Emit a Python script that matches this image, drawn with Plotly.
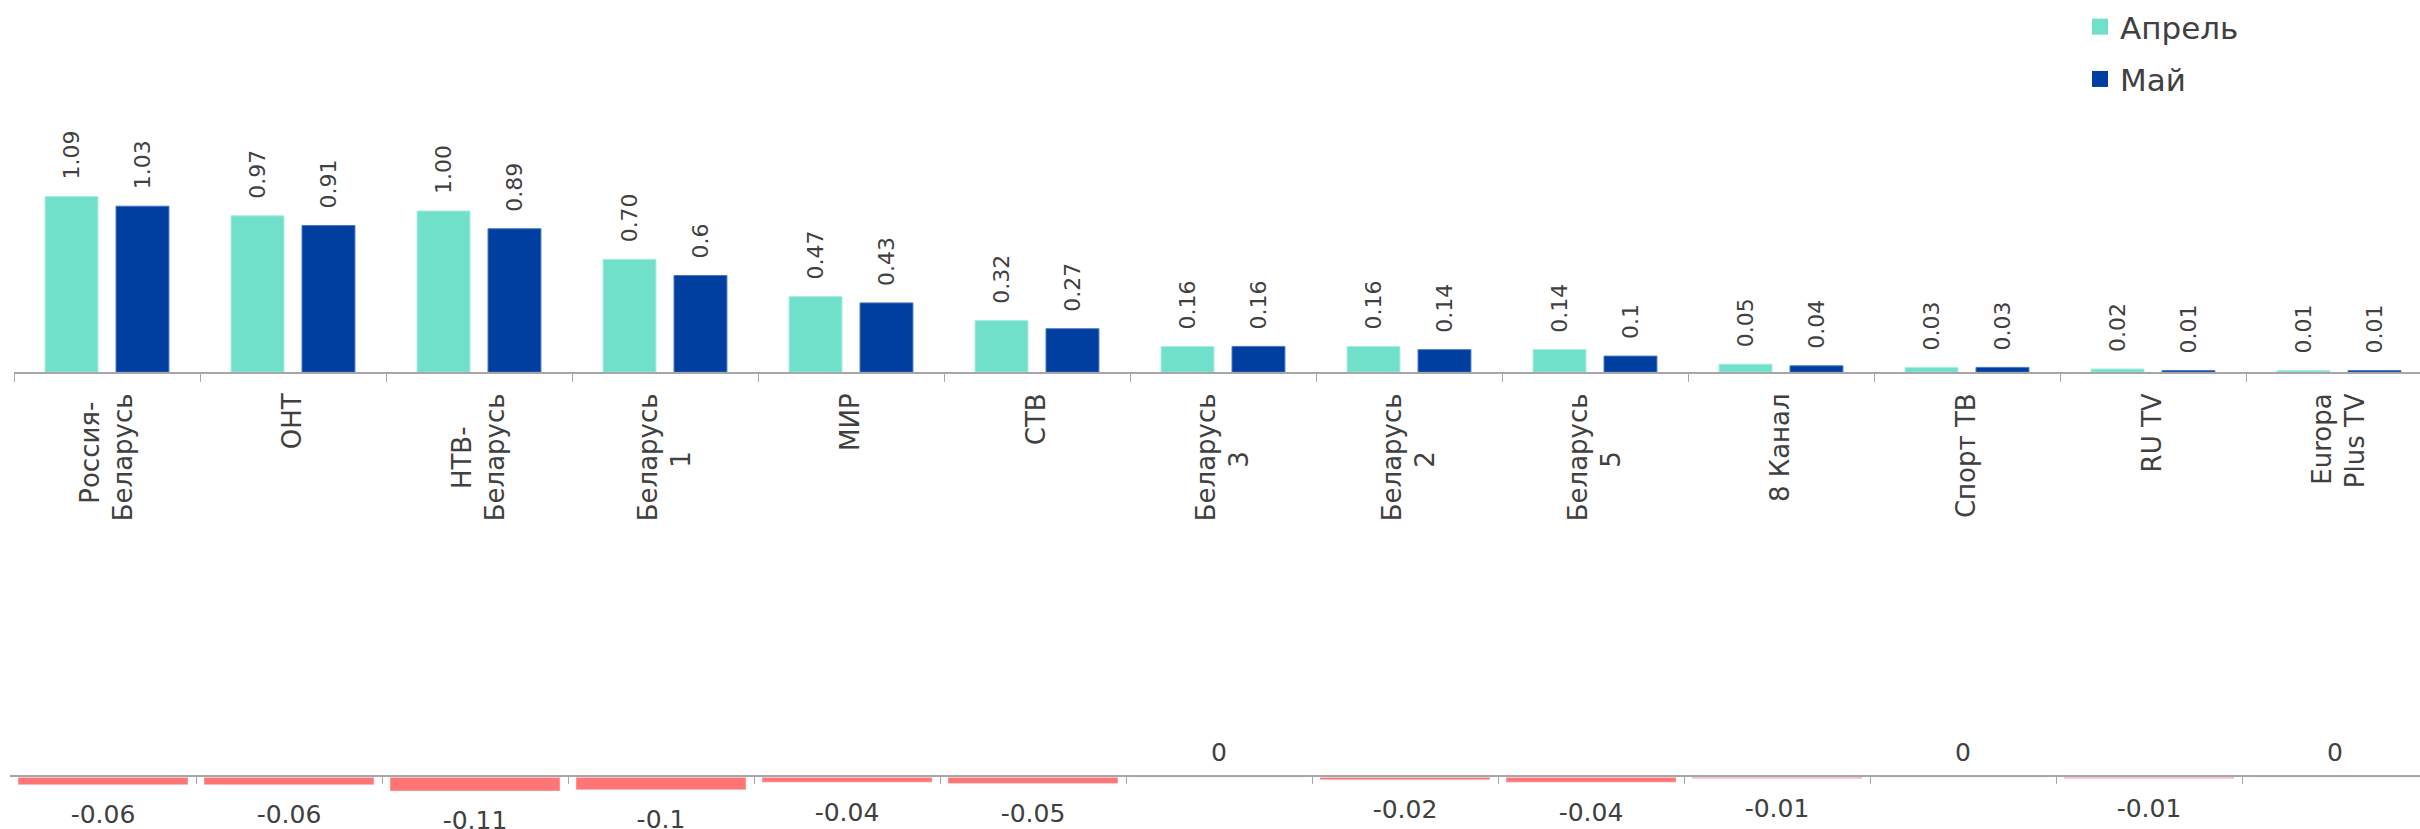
import plotly.graph_objects as go

# ---------------- data ----------------
channels = ["Россия-Беларусь", "ОНТ", "НТВ-Беларусь", "Беларусь 1", "МИР", "СТВ",
            "Беларусь 3", "Беларусь 2", "Беларусь 5", "8 Канал", "Спорт ТВ", "RU TV",
            "Europa Plus TV"]
tick_labels = ["Россия-<br>Беларусь", "ОНТ", "НТВ-<br>Беларусь", "Беларусь<br>1", "МИР", "СТВ",
               "Беларусь<br>3", "Беларусь<br>2", "Беларусь<br>5", "8 Канал", "Спорт ТВ", "RU TV",
               "Europa<br>Plus TV"]
april = [1.09, 0.97, 1.00, 0.70, 0.47, 0.32, 0.16, 0.16, 0.14, 0.05, 0.03, 0.02, 0.01]
may = [1.03, 0.91, 0.89, 0.6, 0.43, 0.27, 0.16, 0.14, 0.1, 0.04, 0.03, 0.01, 0.01]
april_labels = ["1.09", "0.97", "1.00", "0.70", "0.47", "0.32", "0.16", "0.16", "0.14",
                "0.05", "0.03", "0.02", "0.01"]
may_labels = ["1.03", "0.91", "0.89", "0.6", "0.43", "0.27", "0.16", "0.14", "0.1",
              "0.04", "0.03", "0.01", "0.01"]
change = [-0.06, -0.06, -0.11, -0.1, -0.04, -0.05, 0, -0.02, -0.04, -0.01, 0, -0.01, 0]
change_labels = ["-0.06", "-0.06", "-0.11", "-0.1", "-0.04", "-0.05", "0", "-0.02", "-0.04",
                 "-0.01", "0", "-0.01", "0"]
series_names = ["Апрель", "Май"]

# ---------------- style ----------------
W, H = 2420, 829
C_APR = "#71E0CB"
C_MAY = "#003FA0"
C_NEG = "#FF7575"
C_AXIS = "#A6A6A6"
C_TEXT = "#404040"
FONT = "DejaVu Sans"
NB = "\u00a0"
CAT_PX = 186.0          # pixel width of one category
TOP_ZERO_PX = 370.0     # y pixel of top baseline
TOP_PX_PER_UNIT = 162.0
BOT_ZERO_PX = 777.0
BOT_PX_PER_UNIT = 125.0


def _w(s):
    return sum(0.36 if c == "-" else 0.32 if c == " " else 0.28 if c == "l" else 0.62 for c in s)


def centered(label):
    """pad shorter lines so multi-line rotated labels look centre aligned"""
    lines = label.split("<br>")
    m = max(_w(l) for l in lines)
    return "<br>".join(l + NB * int(round((m - _w(l)) / 2 / 0.318)) for l in lines)


tick_text = [centered(t) for t in tick_labels]

fig = go.Figure()
fig.add_trace(go.Bar(
    name=series_names[0], x=channels, y=april, text=april_labels,
    texttemplate=NB * 2 + "%{text}", textposition="outside", textangle=-90,
    constraintext="none", cliponaxis=False,
    textfont=dict(family=FONT, size=22, color=C_TEXT),
    marker=dict(color=C_APR, line=dict(color="#A8EEE0", width=1)),
    xaxis="x", yaxis="y", showlegend=False))
fig.add_trace(go.Bar(
    name=series_names[1], x=channels, y=may, text=may_labels,
    texttemplate=NB * 2 + "%{text}", textposition="outside", textangle=-90,
    constraintext="none", cliponaxis=False,
    textfont=dict(family=FONT, size=22, color=C_TEXT),
    marker=dict(color=C_MAY, line=dict(color="#4A78C4", width=1)),
    xaxis="x", yaxis="y", showlegend=False))

# legend keys (no data, legend only) with larger square symbols
for nm, col, grp in [(series_names[0], C_APR, "a"), (series_names[1], C_MAY, "b")]:
    fig.add_trace(go.Scatter(
        name=nm, x=[None], y=[None], mode="markers",
        marker=dict(symbol="square", size=16, color=col),
        xaxis="x", yaxis="y", legendgroup=grp, showlegend=True, hoverinfo="skip"))

fig.add_trace(go.Bar(
    x=channels, y=change, width=170 / CAT_PX, marker=dict(color=C_NEG),
    xaxis="x2", yaxis="y2", showlegend=False))
fig.add_trace(go.Scatter(
    x=channels, y=change, mode="markers+text", text=change_labels,
    textposition=["top center" if v >= 0 else "bottom center" for v in change],
    textfont=dict(family=FONT, size=25, color=C_TEXT),
    marker=dict(size=[14 if v >= 0 else 30 for v in change], opacity=0), cliponaxis=False,
    xaxis="x2", yaxis="y2", showlegend=False, hoverinfo="skip"))

top_dom = (H - TOP_ZERO_PX) / H
bot_dom = (H - BOT_ZERO_PX) / H

fig.update_layout(
    width=W, height=H, margin=dict(l=0, r=0, t=0, b=0),
    paper_bgcolor="white", plot_bgcolor="white",
    barmode="group", bargap=0.237, bargroupgap=0.254,
    font=dict(family=FONT, color=C_TEXT),
    xaxis=dict(domain=[14 / W, 1], range=[-0.5, -0.5 + (W - 14) / CAT_PX],
               anchor="y", tickmode="array", tickvals=channels, ticktext=tick_text,
               tickangle=-90, tickfont=dict(family=FONT, size=26, color=C_TEXT),
               ticklabelstandoff=9,
               showline=True, linecolor=C_AXIS, linewidth=1.5,
               ticks="outside", ticklen=8, tickwidth=1, tickcolor=C_AXIS,
               tickson="boundaries", showgrid=False, zeroline=False),
    yaxis=dict(domain=[top_dom, 1], range=[0, TOP_ZERO_PX / TOP_PX_PER_UNIT],
               visible=False, anchor="x"),
    xaxis2=dict(domain=[10 / W, 1], range=[-0.5, -0.5 + (W - 10) / CAT_PX],
                anchor="y2", side="top", showticklabels=False,
                showline=True, linecolor=C_AXIS, linewidth=1.5,
                ticks="inside", ticklen=7, tickwidth=1, tickcolor=C_AXIS,
                tickson="boundaries", showgrid=False, zeroline=False),
    yaxis2=dict(domain=[0, bot_dom], range=[-(H - BOT_ZERO_PX) / BOT_PX_PER_UNIT, 0],
                visible=False, anchor="x2"),
    legend=dict(x=2080 / W, y=1.005, xanchor="left", yanchor="top",
                font=dict(family=FONT, size=31, color=C_TEXT),
                itemsizing="trace",
                bgcolor="rgba(0,0,0,0)", tracegroupgap=9),
)

fig.write_html("out.html",
               config={"displayModeBar": False},
               post_script="document.body.style.margin='0';"
                           "document.body.style.overflow='hidden';")
